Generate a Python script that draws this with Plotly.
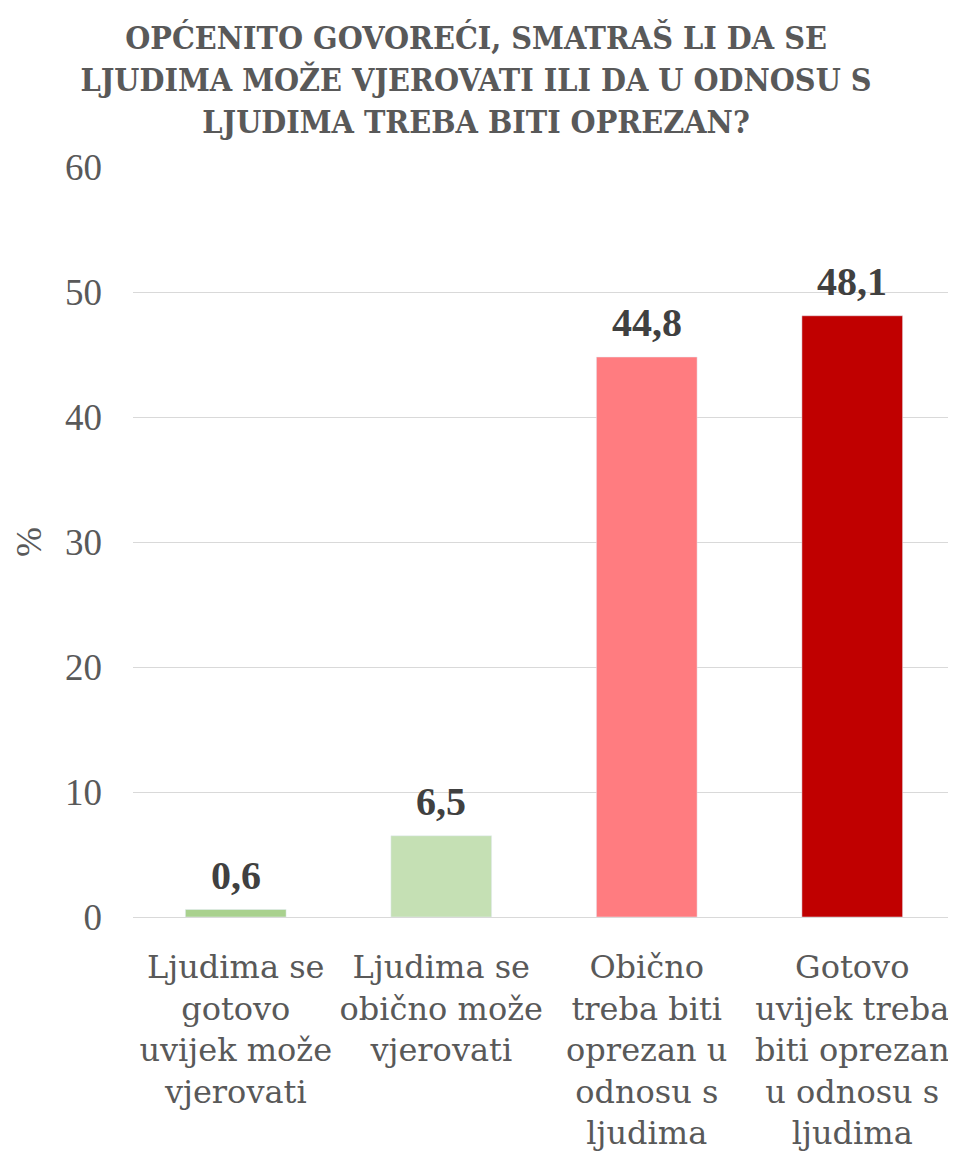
import plotly.graph_objects as go

categories = [
    "Ljudima se<br>gotovo<br>uvijek može<br>vjerovati",
    "Ljudima se<br>obično može<br>vjerovati",
    "Obično<br>treba biti<br>oprezan u<br>odnosu s<br>ljudima",
    "Gotovo<br>uvijek treba<br>biti oprezan<br>u odnosu s<br>ljudima",
]
values = [0.6, 6.5, 44.8, 48.1]
value_labels = ["0,6", "6,5", "44,8", "48,1"]
colors = ["#a9d18e", "#c5e0b4", "#ff7c80", "#c00000"]
title_text = ("OPĆENITO GOVOREĆI, SMATRAŠ LI DA SE<br>LJUDIMA MOŽE VJEROVATI ILI DA U ODNOSU S<br>"
              "LJUDIMA TREBA BITI OPREZAN?")

num_font = "Liberation Serif, serif"
txt_font = "DejaVu Serif, serif"

fig = go.Figure(go.Bar(
    x=categories, y=values, marker_color=colors, cliponaxis=False,
))

for c, v, t in zip(categories, values, value_labels):
    fig.add_annotation(x=c, y=v, text=t, showarrow=False, yanchor="bottom", yshift=10,
                       font=dict(family=num_font, size=40, color="#404040", weight="bold"))

fig.update_layout(
    width=948, height=1151,
    margin=dict(l=125, r=1, t=159, b=242),
    paper_bgcolor="white", plot_bgcolor="white",
    bargap=0.51,
    showlegend=False,
    title=dict(text=title_text, x=0.4937, xanchor="center", y=0.964, yanchor="middle",
               font=dict(family="DejaVu Serif Condensed, Liberation Serif, serif", size=32,
                         color="#595959", weight="bold")),
    xaxis=dict(tickfont=dict(family=txt_font, size=32, color="#595959"),
               showline=False, ticks="", ticklabelstandoff=28),
    yaxis=dict(range=[0, 60], dtick=10, showgrid=True, gridcolor="#d9d9d9", gridwidth=1.2,
               zeroline=True, zerolinecolor="#d9d9d9", zerolinewidth=1.2,
               tickfont=dict(family=num_font, size=37, color="#595959"),
               ticks="", ticklabelstandoff=30,
               title=dict(text="%", font=dict(family=num_font, size=36, color="#595959"), standoff=12)),
)

fig.write_html("out.html")
